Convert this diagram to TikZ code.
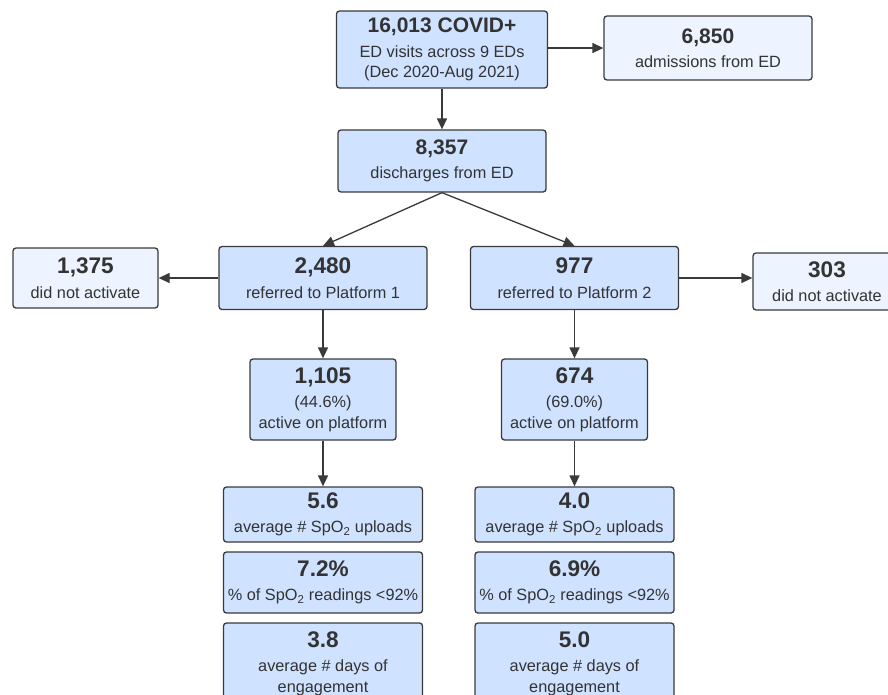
\documentclass[tikz,border=0pt]{standalone}
\usepackage{fontspec}
\setmainfont{Liberation Sans}
\usetikzlibrary{arrows.meta}
\definecolor{boxblue}{RGB}{207,226,255}
\definecolor{boxpale}{RGB}{237,244,255}
\definecolor{edgegray}{RGB}{58,58,58}
\definecolor{txtgray}{RGB}{51,51,51}
\newcommand{\numA}[1]{{\bfseries\fontsize{21}{24}\selectfont #1}\\[4pt]}
\newcommand{\numB}[1]{{\bfseries\fontsize{22.6}{26}\selectfont #1}\\[4pt]}
\begin{document}
\begin{tikzpicture}[x=1pt,y=-1pt,
  box/.style={draw=edgegray, line width=1.3pt, rounded corners=3pt, fill=boxblue,
    text=txtgray, align=center, inner sep=0pt, font=\fontsize{16.3}{20.5}\selectfont},
  pale/.style={box, fill=boxpale},
  arr/.style={draw=edgegray, line width=1.3pt, -{Triangle[length=11pt,width=10pt]}},
]
\useasboundingbox (0,0) rectangle (888,694);
\clip (0,0) rectangle (888,694);

\node[box, minimum width=211pt, minimum height=77pt] (top) at (442,49.5)
  {\numA{16,013 COVID+}ED visits across 9 EDs\\(Dec 2020-Aug 2021)};
\node[pale, minimum width=208pt, minimum height=64pt] (adm) at (708,48)
  {\numA{6,850}admissions from ED};
\node[box, minimum width=208pt, minimum height=62pt] (dis) at (442,161)
  {\numA{8,357}discharges from ED};
\node[box, minimum width=208pt, minimum height=63pt] (p1) at (323,278)
  {\numB{2,480}referred to Platform 1};
\node[box, minimum width=208pt, minimum height=63pt] (p2) at (574.5,278)
  {\numB{977}referred to Platform 2};
\node[pale, minimum width=145pt, minimum height=60pt] (dna1) at (85.5,278)
  {\numB{1,375}did not activate};
\node[pale, minimum width=148pt, minimum height=57pt] (dna2) at (827,281.5)
  {\numB{303}did not activate};
\node[box, minimum width=146pt, minimum height=81pt] (a1) at (323,399.5)
  {\numB{1,105}(44.6\%)\\active on platform};
\node[box, minimum width=146pt, minimum height=81pt] (a2) at (574.5,399.5)
  {\numB{674}(69.0\%)\\active on platform};
\node[box, minimum width=199pt, minimum height=55pt] (u1) at (323,514.5)
  {\numB{5.6}average \# SpO\textsubscript{2} uploads};
\node[box, minimum width=199pt, minimum height=55pt] (u2) at (574.5,514.5)
  {\numB{4.0}average \# SpO\textsubscript{2} uploads};
\node[box, minimum width=199pt, minimum height=61pt] (r1) at (323,582.5)
  {\numB{7.2\%}\% of SpO\textsubscript{2} readings <92\%};
\node[box, minimum width=199pt, minimum height=61pt] (r2) at (574.5,582.5)
  {\numB{6.9\%}\% of SpO\textsubscript{2} readings <92\%};
\node[box, minimum width=199pt, minimum height=81pt] (e1) at (323,663.5)
  {\numB{3.8}average \# days of\\engagement};
\node[box, minimum width=199pt, minimum height=81pt] (e2) at (574.5,663.5)
  {\numB{5.0}average \# days of\\engagement};

\draw[arr] (top.east |- adm.west) -- (adm.west);
\draw[arr] (top.south) -- (dis.north);
\draw[arr] (dis.south) -- (p1.north);
\draw[arr] (dis.south) -- (p2.north);
\draw[arr] (p1.west) -- (dna1.east);
\draw[arr] (p2.east) -- (p2.east -| dna2.west);
\draw[arr] (p1.south) -- (a1.north);
\draw[arr] (p2.south) -- (a2.north);
\draw[arr] (a1.south) -- (u1.north);
\draw[arr] (a2.south) -- (u2.north);
\end{tikzpicture}
\end{document}
